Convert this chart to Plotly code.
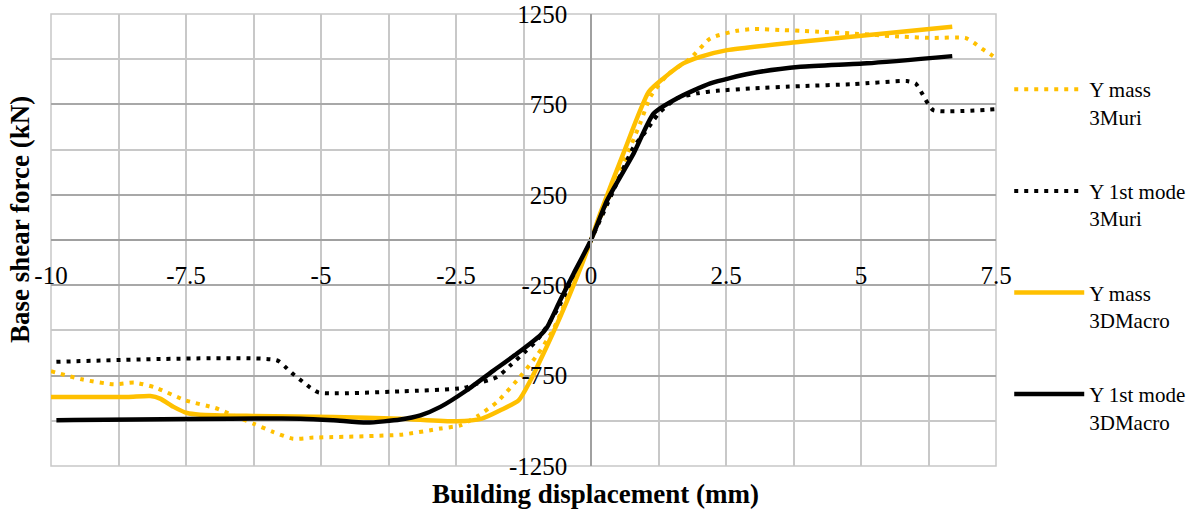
import plotly.graph_objects as go

# ---- data ----
mass_3muri_x = [-10, -9.41, -8.84, -8.45, -8.07, -7.51, -6.96, -6.62, -6.25, -5.88, -5.52, -5.14,
                -3.53, -2.79, -2.42, -2.08, -1.74, -1.37, -1.0, -0.69, 0, 0.4, 0.91, 1.10, 1.41,
                1.84, 2.21, 2.70, 3.01, 3.57, 3.88, 4.21, 4.80, 5.78, 6.34, 6.93, 7.09, 7.26, 7.42, 7.55]
mass_3muri_y = [-726, -772, -798, -789, -816, -887, -929, -970, -1016, -1062, -1099, -1093,
                -1077, -1043, -1025, -970, -896, -776, -638, -490, 0, 280, 645, 792, 912,
                1004, 1115, 1157, 1167, 1161, 1157, 1152, 1143, 1124, 1118, 1118, 1091, 1054, 1023, 995]

mode_3muri_x = [-9.9, -5.82, -5.66, -5.51, -5.35, -5.20, -5.04, -3.53, -2.36, -2.11, -1.74, -1.49,
                -1.19, -1.0, -0.63, 0, 0.42, 0.79, 1.01, 1.16, 1.28, 1.59, 1.96, 2.33, 2.95, 3.88,
                4.86, 5.85, 6.01, 6.13, 6.22, 6.34, 7.52]
mode_3muri_y = [-674, -665, -702, -743, -781, -816, -844, -837, -818, -794, -758, -693,
                -610, -555, -388, 0, 276, 515, 598, 663, 709, 783, 811, 825, 838, 851,
                862, 879, 866, 811, 764, 718, 724]

mass_3dm_x = [-10, -8.59, -8.16, -7.98, -7.73, -7.48, -7.24, -6.25, -4.77, -3.53, -2.48, -2.02,
              -1.68, -1.34, -1.12, -0.88, -0.57, -0.26, 0, 0.17, 0.60, 1.07, 1.34, 1.71, 2.02,
              2.52, 3.88, 6.69]
mass_3dm_y = [-868, -868, -863, -877, -923, -957, -966, -973, -979, -988, -1003, -988,
              -942, -887, -776, -628, -425, -204, 0, 147, 479, 820, 894, 977, 1013,
              1050, 1096, 1179]

mode_3dm_x = [-9.9, -5.38, -4.77, -4.15, -3.53, -3.16, -2.79, -2.30, -1.80, -1.37, -0.94, -0.81,
              -0.57, -0.32, 0, 0.30, 0.79, 1.16, 1.59, 2.21, 2.95, 3.88, 5.11, 6.69]
mode_3dm_y = [-997, -988, -997, -1010, -993, -970, -923, -831, -721, -628, -527, -481,
              -333, -185, 0, 220, 479, 700, 783, 866, 921, 958, 977, 1017]

series_names = ["Y mass<br>3Muri", "Y 1st mode<br>3Muri", "Y mass<br>3DMacro", "Y 1st mode<br>3DMacro"]

x_tick_vals = [-10, -7.5, -5, -2.5, 0, 2.5, 5, 7.5]
x_tick_text = ["-10", "-7.5", "-5", "-2.5", "0", "2.5", "5", "7.5"]
y_tick_vals = [-1250, -750, -250, 250, 750, 1250]
y_tick_text = ["-1250", "-750", "-250", "250", "750", "1250"]

ORANGE = "#FFC000"
BLACK = "#000000"
FONT = "Liberation Serif"

fig = go.Figure()
specs = [
    (mass_3muri_x, mass_3muri_y, ORANGE, "4px,6px", 4),
    (mode_3muri_x, mode_3muri_y, BLACK, "4px,6px", 4),
    (mass_3dm_x, mass_3dm_y, ORANGE, "solid", 4.5),
    (mode_3dm_x, mode_3dm_y, BLACK, "solid", 4.5),
]
for i, (xs, ys, col, dash, w) in enumerate(specs):
    fig.add_trace(go.Scatter(
        x=xs, y=ys, mode="lines", name=series_names[i], legendgroup=f"g{i}",
        line=dict(color=col, dash=dash, width=w, shape="spline", smoothing=0.6),
        cliponaxis=True,
    ))

grid_major = "#A8A8A8"
grid_minor = "#C8C8C8"

PH = 452.0  # plot height in px
PW = 945.0  # plot width in px

fig.update_layout(
    width=1195, height=510,
    margin=dict(l=51, r=199, t=14, b=44, autoexpand=False),
    paper_bgcolor="white", plot_bgcolor="white",
    font=dict(family=FONT, size=25, color="#000"),
    showlegend=True,
    legend=dict(
        x=1.014, xanchor="left", y=0.878, yanchor="top",
        font=dict(family=FONT, size=21, color="#000"),
        traceorder="grouped", tracegroupgap=44, itemwidth=70, valign="top",
        bgcolor="rgba(0,0,0,0)",
    ),
    xaxis=dict(
        range=[-10, 7.5], anchor="free", position=0.5, automargin=False,
        tickmode="array", tickvals=x_tick_vals, ticktext=x_tick_text,
        showgrid=True, gridcolor=grid_minor, gridwidth=1.5,
        minor=dict(tick0=-10, dtick=1.25, showgrid=True, gridcolor=grid_minor, gridwidth=1.5),
        zeroline=False, showline=True, linecolor="#A0A0A0", linewidth=1.5,
        ticks="", ticklabelstandoff=13, ticklabeloverflow="allow",
        tickfont=dict(family=FONT, size=25, color="#000"),
    ),
    yaxis=dict(
        range=[-1250, 1250], anchor="free", position=10 / 17.5, automargin=False,
        tickmode="array", tickvals=y_tick_vals, ticktext=y_tick_text,
        showgrid=True, gridcolor=grid_major, gridwidth=1.5,
        minor=dict(tick0=-1250, dtick=250, showgrid=True, gridcolor=grid_minor, gridwidth=1.5),
        zeroline=False, showline=True, linecolor="#A0A0A0", linewidth=1.5,
        ticks="", ticklabelstandoff=18, ticklabeloverflow="allow",
        tickfont=dict(family=FONT, size=25, color="#000"),
    ),
    shapes=[dict(type="rect", xref="paper", yref="paper", x0=0, x1=1, y0=0, y1=1,
                 line=dict(color=grid_minor, width=1.5), layer="below")],
    annotations=[
        dict(text="<b>Building displacement (mm)</b>", xref="paper", yref="paper",
             x=(595 - 51) / PW, y=-28 / PH, xanchor="center", yanchor="middle", showarrow=False,
             font=dict(family=FONT, size=27, color="#000")),
        dict(text="<b>Base shear force (kN)</b>", xref="paper", yref="paper",
             x=-31 / PW, y=(466 - 220) / PH, xanchor="center", yanchor="middle", showarrow=False,
             textangle=-90, font=dict(family=FONT, size=27, color="#000")),
    ],
)

fig.write_html("out.html", config={"displayModeBar": False},
               post_script="document.body.style.margin='0px';")
